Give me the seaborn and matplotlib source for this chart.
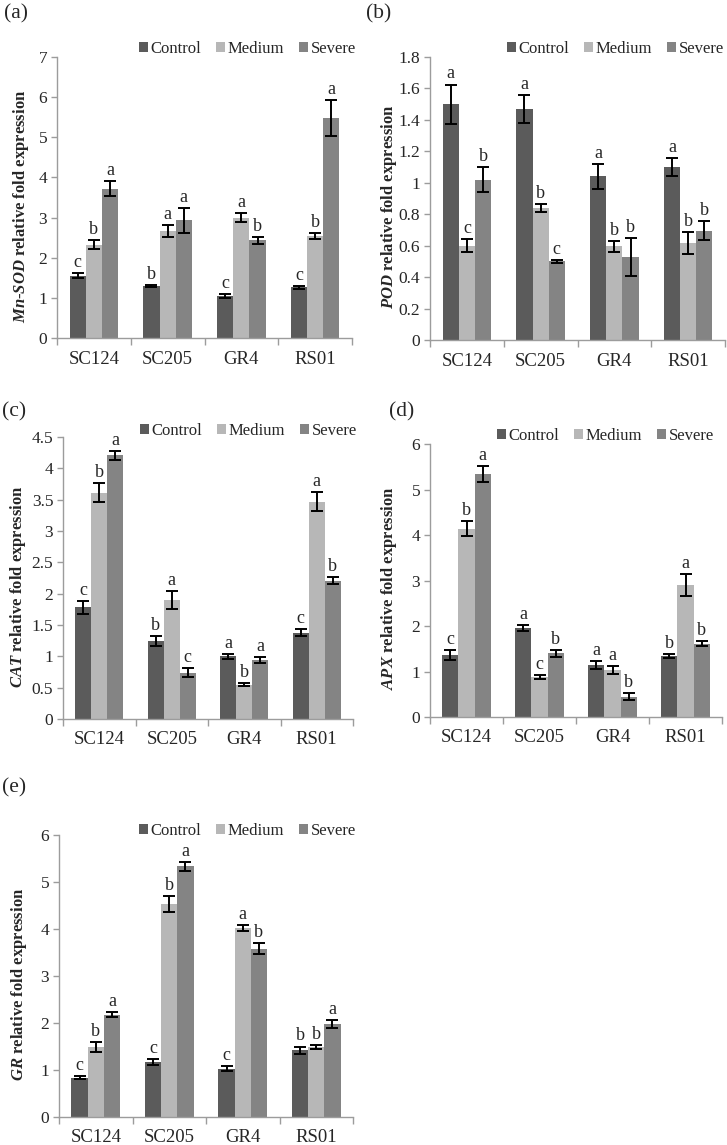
import matplotlib
matplotlib.use("Agg")
import matplotlib.pyplot as plt
import seaborn as sns
import pandas as pd
import numpy as np

# ---------------- data ----------------
lines = ["SC124", "SC205", "GR4", "RS01"]
treatments = ["Control", "Medium", "Severe"]
colors = ["#5b5b5b", "#b7b7b7", "#848484"]

# Mn-SOD (a)
sod_mean = [[1.55, 1.30, 1.05, 1.26], [2.32, 2.67, 3.00, 2.54], [3.72, 2.93, 2.43, 5.48]]
sod_err = [[0.06, 0.03, 0.05, 0.03], [0.11, 0.15, 0.12, 0.08], [0.19, 0.31, 0.09, 0.45]]
sod_sig = [["c", "b", "c", "c"], ["b", "a", "a", "b"], ["a", "a", "b", "a"]]

# POD (b)
pod_mean = [[1.50, 1.47, 1.04, 1.10], [0.60, 0.84, 0.595, 0.615], [1.02, 0.50, 0.53, 0.695]]
pod_err = [[0.125, 0.09, 0.08, 0.055], [0.04, 0.025, 0.035, 0.07], [0.08, 0.01, 0.12, 0.06]]
pod_sig = [["a", "a", "a", "a"], ["c", "b", "b", "b"], ["b", "c", "b", "b"]]

# CAT (c)
cat_mean = [[1.78, 1.24, 1.00, 1.38], [3.61, 1.90, 0.55, 3.47], [4.21, 0.74, 0.94, 2.21]]
cat_err = [[0.10, 0.08, 0.04, 0.06], [0.15, 0.14, 0.03, 0.15], [0.07, 0.07, 0.05, 0.06]]
cat_sig = [["c", "b", "a", "c"], ["b", "a", "b", "a"], ["a", "c", "a", "b"]]

# APX (d)
apx_mean = [[1.36, 1.96, 1.14, 1.34], [4.14, 0.88, 1.03, 2.90], [5.34, 1.40, 0.45, 1.61]]
apx_err = [[0.11, 0.07, 0.08, 0.05], [0.17, 0.05, 0.08, 0.24], [0.18, 0.08, 0.08, 0.05]]
apx_sig = [["c", "a", "a", "b"], ["b", "c", "a", "a"], ["a", "b", "b", "b"]]

# GR (e)
gr_mean = [[0.84, 1.17, 1.03, 1.42], [1.49, 4.53, 4.02, 1.49], [2.18, 5.33, 3.58, 1.98]]
gr_err = [[0.03, 0.07, 0.06, 0.08], [0.11, 0.17, 0.07, 0.05], [0.06, 0.09, 0.12, 0.08]]
gr_sig = [["c", "c", "c", "b"], ["b", "b", "a", "b"], ["a", "a", "b", "a"]]

gene_labels = [
    r"$\mathbfit{Mn}$-$\mathbfit{SOD}$ relative fold expression",
    r"$\mathbfit{POD}$ relative fold expression",
    r"$\mathbfit{CAT}$ relative fold expression",
    r"$\mathbfit{APX}$ relative fold expression",
    r"$\mathbfit{GR}$ relative fold expression",
]
panel_tags = ["(a)", "(b)", "(c)", "(d)", "(e)"]
y_max = [7, 1.8, 4.5, 6, 6]
y_step = [1, 0.2, 0.5, 1, 1]

# ---------------- style ----------------
sns.set_theme(style="white")
plt.rcParams["font.family"] = ["Liberation Serif", "DejaVu Serif"]
plt.rcParams["font.serif"] = ["Liberation Serif", "DejaVu Serif"]
plt.rcParams["mathtext.fontset"] = "custom"
plt.rcParams["mathtext.rm"] = "Liberation Serif"
plt.rcParams["mathtext.it"] = "Liberation Serif:italic"
plt.rcParams["mathtext.bf"] = "Liberation Serif:bold"
plt.rcParams["mathtext.bfit"] = "Liberation Serif:bold:italic"

W, H = 727, 1145
fig = plt.figure(figsize=(W / 100, H / 100), dpi=100)

# axes boxes in pixels: left, right, top, bottom
boxes = [(57, 352, 57, 338), (430, 725, 57, 340), (63, 353, 437, 719),
         (430, 722, 444, 717), (59, 353, 835, 1117)]
tag_pos = [(4, 14), (366, 14), (2, 412), (389, 412), (2, 788)]
legend_pos = [(356, 49), (724, 49), (357, 431), (714, 436), (356, 831)]
ylab_offset = [26, 31, 35, 31, 30]

datasets = [(sod_mean, sod_err, sod_sig), (pod_mean, pod_err, pod_sig),
            (cat_mean, cat_err, cat_sig), (apx_mean, apx_err, apx_sig),
            (gr_mean, gr_err, gr_sig)]


def fmt(v):
    s = f"{v:.1f}"
    if s.endswith(".0"):
        s = s[:-2]
    return s


axis_gray = "#9c9c9c"
for i, (means, errs, sigs) in enumerate(datasets):
    L, R, T, B = boxes[i]
    ax = fig.add_axes([L / W, 1 - B / H, (R - L) / W, (B - T) / H])
    rows = []
    for t, tr in enumerate(treatments):
        for j, ln in enumerate(lines):
            rows.append({"line": ln, "treatment": tr, "value": means[t][j]})
    df = pd.DataFrame(rows)
    sns.barplot(data=df, x="line", y="value", hue="treatment", order=lines,
                hue_order=treatments, palette=colors, width=0.66, errorbar=None,
                saturation=1, linewidth=0, ax=ax)
    bar_conts = list(ax.containers)
    for t, cont in enumerate(bar_conts):
        xs = [p.get_x() + p.get_width() / 2 for p in cont.patches]
        hs = [p.get_height() for p in cont.patches]
        ax.errorbar(xs, hs, yerr=errs[t], fmt="none", ecolor="black",
                    elinewidth=1.4, capsize=4, capthick=1.4, zorder=5)
        for x, h, e, s in zip(xs, hs, errs[t], sigs[t]):
            ax.annotate(s, (x, h + e), xytext=(0, 1.5), textcoords="offset points",
                        ha="center", va="bottom", fontsize=13)
    handles, labels = ax.get_legend_handles_labels()
    if ax.get_legend() is not None:
        ax.get_legend().remove()
    lx, ly = legend_pos[i]
    fig.legend(handles[:3], labels[:3], ncol=3, frameon=False, loc="center right",
               bbox_to_anchor=(lx / W, 1 - ly / H), fontsize=12,
               handlelength=0.55, handleheight=0.55, handletextpad=0.15,
               columnspacing=0.9, borderaxespad=0, borderpad=0)

    ax.set_xlim(-0.5, 3.5)
    ax.set_ylim(0, y_max[i])
    yt = np.round(np.arange(0, y_max[i] + 1e-9, y_step[i]), 2)
    ax.set_yticks(yt)
    ax.set_yticklabels([fmt(v) for v in yt], fontsize=12.5)
    ax.set_xticks(range(len(lines)))
    ax.set_xticklabels(lines, fontsize=13.5)
    ax.set_xticks([-0.5, 0.5, 1.5, 2.5, 3.5], minor=True)
    ax.tick_params(axis="x", which="major", length=0, pad=9)
    ax.tick_params(axis="x", which="minor", length=5, width=1, color=axis_gray,
                   direction="out", bottom=True)
    ax.tick_params(axis="y", length=4, width=1, color=axis_gray, direction="out",
                   left=True, pad=3)
    for sp in ["top", "right"]:
        ax.spines[sp].set_visible(False)
    for sp in ["left", "bottom"]:
        ax.spines[sp].set_color(axis_gray)
        ax.spines[sp].set_linewidth(1)
    ax.set_xlabel("")
    ax.set_ylabel(gene_labels[i], fontsize=12, fontweight="bold")
    ax.yaxis.set_label_coords(-ylab_offset[i] / (R - L), 0.47)
    tx, ty = tag_pos[i]
    fig.text(tx / W, 1 - ty / H, panel_tags[i], fontsize=15.5, ha="left", va="center")

fig.savefig("out.png", dpi=100, facecolor="white")
